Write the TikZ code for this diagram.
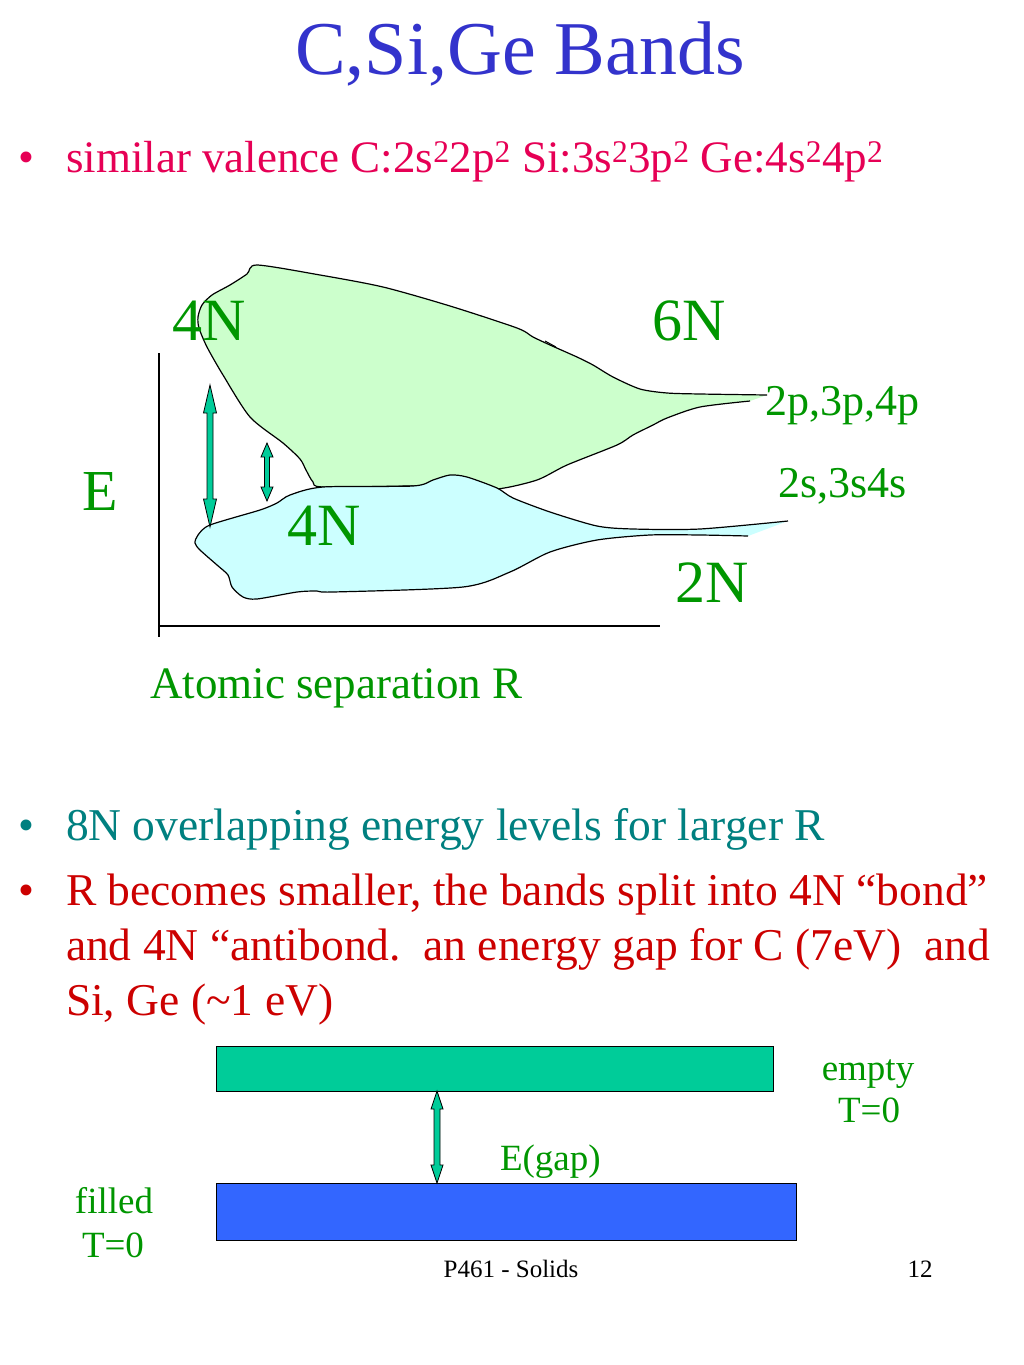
\documentclass[tikz,border=0pt]{standalone}
\usepackage{fontspec}
\setmainfont{Liberation Serif}
\definecolor{titleblue}{RGB}{51,51,204}
\definecolor{pinkred}{RGB}{230,0,85}
\definecolor{labgreen}{RGB}{0,150,0}
\definecolor{tealtext}{RGB}{0,128,128}
\definecolor{redtext}{RGB}{204,0,0}
\definecolor{greenfill}{RGB}{204,255,204}
\definecolor{bluefill}{RGB}{204,255,255}
\definecolor{arrowfill}{RGB}{0,204,153}
\definecolor{bandgreen}{RGB}{0,204,153}
\definecolor{bandblue}{RGB}{51,102,255}
\newcommand\vdarrow[6]{%
  \filldraw[fill=arrowfill, draw=black, line width=0.8pt, line join=miter]
    (#1,#2) -- (#1+#5,#2+#4) -- (#1+#6,#2+#4) -- (#1+#6,#3-#4) -- (#1+#5,#3-#4)
    -- (#1,#3) -- (#1-#5,#3-#4) -- (#1-#6,#3-#4) -- (#1-#6,#2+#4) -- (#1-#5,#2+#4) -- cycle;}
\begin{document}
\begin{tikzpicture}[x=1pt,y=-1pt,
  every node/.style={inner sep=0pt, outer sep=0pt},
  bigtxt/.style={font=\fontsize{45.5}{50}\selectfont, anchor=base west},
  glab/.style={font=\fontsize{60}{66}\selectfont, text=labgreen, anchor=base west},
  slab/.style={font=\fontsize{44}{50}\selectfont, text=labgreen, anchor=base west},
  smlab/.style={font=\fontsize{37}{42}\selectfont, text=labgreen, anchor=base},
  outline/.style={draw=black, line width=1.2pt},
  bandbox/.style={draw=black, line width=1pt, anchor=north west}]
\useasboundingbox (0,0) rectangle (1024,1365);
\fill[white] (0,0) rectangle (1024,1365);

% title
\node[font=\fontsize{76}{84}\selectfont, text=titleblue, anchor=base] (title) at (520,74) {C,Si,Ge Bands};

% bullet 1
\node[bigtxt, text=pinkred] (dot1) at (18,172) {•};
\node[bigtxt, text=pinkred, font=\fontsize{45}{50}\selectfont] (b1) at (66,172) {similar valence C:2s\textsuperscript{2}2p\textsuperscript{2} Si:3s\textsuperscript{2}3p\textsuperscript{2} Ge:4s\textsuperscript{2}4p\textsuperscript{2}};

% band shapes
\draw[outline, fill=greenfill] plot[smooth, tension=0.45] coordinates {
 (767,395) (700,394) (667,393) (640,389) (613,377) (593,365) (577,357) (550,345)
 (533,337) (517,328) (450,306) (383,287) (320,275) (257,265) (247,274) (230,285)
 (212,295) (202,305) (198,317) (199,328) (207,347) (223,375) (250,417) (283,443)
 (300,459) (306,470) (313,482) (323,487) (413,486) (455,487) (497,489) (537,480)
 (567,465) (617,445) (633,435) (653,425) (667,418) (700,407) (750,401)};
\draw[black, line width=1pt] (545,341) -- (556,347);
\draw[outline, fill=bluefill] plot[smooth, tension=0.45] coordinates {
 (788,521) (700,529) (633,529) (597,526) (550,512) (513,498) (497,488) (467,477)
 (450,475) (433,480) (413,486) (323,487) (290,495) (277,503) (260,510) (210,525)
 (198,535) (195,543) (200,550) (217,565) (228,575) (232,587) (243,597) (257,599)
 (297,592) (317,591) (333,592) (463,587) (510,572) (550,552) (597,540) (650,535)
 (700,535) (748,536)};

% axes
\coordinate (axtop) at (159,353);
\coordinate (axorig) at (159,626);
\coordinate (axbot) at (159,637);
\coordinate (axright) at (660,626);
\draw[black, line width=1.6pt] (axtop) -- (axbot);
\draw[black, line width=1.6pt] (axorig) -- (axright);

% arrows in graph
\vdarrow{210}{385}{527}{28}{6.5}{3}
\vdarrow{267}{443}{501}{14}{6}{2.5}

% labels in graph
\node[glab] (l4Na) at (172,340) {4N};
\node[glab] (l6N) at (652,340) {6N};
\node[glab, font=\fontsize{58}{64}\selectfont] (lE) at (82,510) {E};
\node[glab] (l4Nb) at (287,545) {4N};
\node[glab] (l2N) at (675,602) {2N};
\node[slab] (lp) at (765,415) {2p,3p,4p};
\node[slab] (ls) at (778,497) {2s,3s4s};
\node[slab, font=\fontsize{45}{50}\selectfont] (lR) at (150,698) {Atomic separation R};

% bullets 2 and 3
\node[bigtxt, text=tealtext] (dot2) at (18,840) {•};
\node[bigtxt, text=tealtext] (b2) at (66,840) {8N overlapping energy levels for larger R};
\node[bigtxt, text=redtext] (dot3) at (18,905) {•};
\node[bigtxt, text=redtext] (b3a) at (66,905) {R becomes smaller, the bands split into 4N “bond”};
\node[bigtxt, text=redtext] (b3b) at (66,960) {and 4N “antibond.\ \ an energy gap for C (7eV)\ \ and};
\node[bigtxt, text=redtext] (b3c) at (66,1015) {Si, Ge (\textasciitilde1 eV)};

% band diagram
\node[bandbox, fill=bandgreen, minimum width=557pt, minimum height=45pt] (cband) at (216,1046) {};
\node[bandbox, fill=bandblue, minimum width=580pt, minimum height=57pt] (vband) at (216,1183) {};
\vdarrow{437}{1091}{1183}{18}{6}{3}
\node[smlab] (empty) at (868,1080) {empty};
\node[smlab] (t0a) at (869,1122) {T=0};
\node[smlab, anchor=base west] (egap) at (500,1170) {E(gap)};
\node[smlab] (filled) at (114,1213) {filled};
\node[smlab] (t0b) at (113,1257) {T=0};

% footer
\node[font=\fontsize{25}{30}\selectfont, anchor=base] (foot) at (511,1277) {P461 - Solids};
\node[font=\fontsize{25}{30}\selectfont, anchor=base] (page) at (920,1277) {12};
\end{tikzpicture}
\end{document}
